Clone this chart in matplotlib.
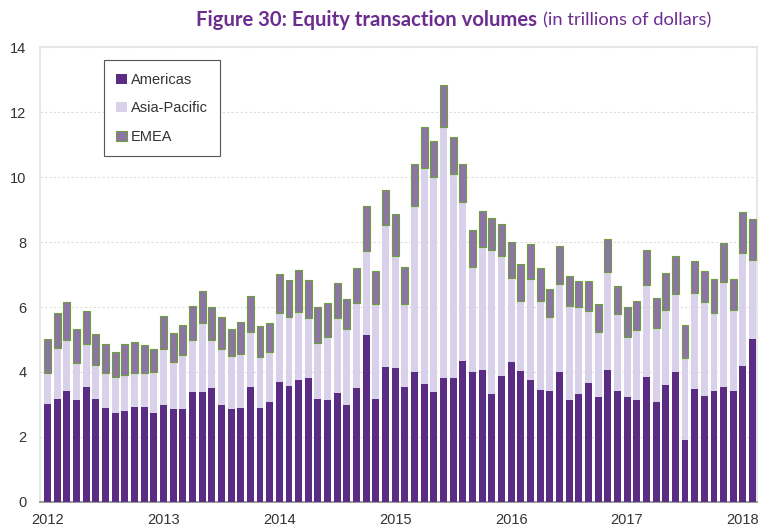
import numpy as np
import matplotlib.pyplot as plt

# monthly volumes, Jan 2012 .. Feb 2018 (trillions of dollars)
americas = [3.00, 3.16, 3.42, 3.13, 3.55, 3.17, 2.89, 2.74, 2.79, 2.93, 2.93, 2.75,
            2.99, 2.87, 2.85, 3.37, 3.37, 3.50, 2.99, 2.86, 2.90, 3.55, 2.88, 3.09,
            3.68, 3.58, 3.76, 3.80, 3.16, 3.13, 3.34, 2.97, 3.52, 5.14, 3.16, 4.15,
            4.12, 3.53, 4.01, 3.62, 3.38, 3.81, 3.83, 4.34, 4.01, 4.05, 3.32, 3.87,
            4.30, 4.04, 3.76, 3.45, 3.41, 3.99, 3.14, 3.31, 3.67, 3.24, 4.05, 3.41,
            3.24, 3.14, 3.85, 3.08, 3.61, 4.00, 1.91, 3.49, 3.26, 3.42, 3.55, 3.42,
            4.19, 5.03]
asia_pacific = [0.98, 1.58, 1.55, 1.14, 1.30, 1.06, 1.08, 1.10, 1.13, 1.05, 1.04, 1.24,
                1.73, 1.43, 1.66, 1.63, 2.13, 1.50, 1.73, 1.63, 1.65, 1.67, 1.57, 1.54,
                2.15, 2.12, 2.10, 1.87, 1.73, 1.96, 2.33, 2.35, 2.60, 2.58, 2.92, 4.39,
                3.44, 2.55, 5.09, 6.65, 6.63, 7.74, 6.25, 4.90, 3.21, 3.79, 4.43, 3.71,
                2.60, 2.15, 3.09, 2.72, 2.27, 2.73, 2.90, 2.69, 2.20, 1.99, 3.04, 2.37,
                1.83, 2.15, 2.83, 2.26, 2.30, 2.40, 2.53, 2.95, 2.88, 2.40, 3.23, 2.49,
                3.48, 2.42]
emea = [1.05, 1.08, 1.19, 1.04, 1.04, 0.95, 0.88, 0.76, 0.93, 0.95, 0.85, 0.73,
        1.01, 0.91, 0.95, 1.03, 1.00, 0.99, 0.96, 0.84, 1.00, 1.12, 0.97, 0.89,
        1.20, 1.12, 1.28, 1.17, 1.10, 1.04, 1.08, 0.93, 1.09, 1.39, 1.03, 1.06,
        1.29, 1.14, 1.29, 1.26, 1.10, 1.27, 1.15, 1.15, 1.15, 1.12, 0.99, 0.99,
        1.10, 1.13, 1.09, 1.02, 0.89, 1.17, 0.91, 0.79, 0.92, 0.87, 0.99, 0.88,
        0.93, 0.89, 1.07, 0.95, 1.15, 1.16, 1.01, 0.97, 0.98, 1.04, 1.18, 0.95,
        1.25, 1.25]
years = ['2012', '2013', '2014', '2015', '2016', '2017', '2018']

plt.rcParams['font.family'] = ['Liberation Sans', 'DejaVu Sans']

am = np.array(americas)
ap = np.array(asia_pacific)
em = np.array(emea)
x = np.arange(len(am))

fig = plt.figure(figsize=(7.6, 5.3), dpi=100)
ax = fig.add_axes([0.053, 0.053, 0.943, 0.858])

w = 0.72
ax.bar(x, am, w, color='#5B2C83', label='Americas', zorder=3)
ax.bar(x, ap, w, bottom=am, color='#D9D1E9', label='Asia-Pacific', zorder=3)
ax.bar(x, em, w, bottom=am + ap, color='#8C75A5', edgecolor='#6E9E3C',
       linewidth=0.8, label='EMEA', zorder=3)

ax.set_xlim(-0.75, 73.45)
ax.set_ylim(0, 14)
ax.set_yticks(np.arange(0, 15, 2))
ax.set_xticks(np.arange(0, len(am), 12))
ax.set_xticklabels(years)
ax.tick_params(axis='both', length=0, labelsize=10.5, colors='#333333')
ax.tick_params(axis='x', pad=8)
ax.tick_params(axis='y', pad=10)

ax.grid(axis='y', color='#DDDDDD', ls=(0, (2, 2)), lw=0.8, zorder=0)
for s in ['left', 'top', 'right']:
    ax.spines[s].set_color('#E3E3E3')
    ax.spines[s].set_linewidth(1.2)
ax.spines['bottom'].set_color('#8A8A8A')
ax.spines['bottom'].set_linewidth(1.2)

leg = ax.legend(loc='upper left', bbox_to_anchor=(0.089, 0.971), borderaxespad=0,
                fontsize=10.5, handlelength=0.7, handleheight=0.7, handletextpad=0.3,
                labelspacing=1.0, borderpad=0.85, fancybox=False,
                edgecolor='#555555', framealpha=1)
leg.get_frame().set_linewidth(0.8)
for t in leg.get_texts():
    t.set_color('#333333')

fig.text(0.707, 0.962, 'Figure 30: Equity transaction volumes', ha='right', va='center',
         fontsize=14.6, fontweight='bold', color='#6B2D8F', family='Lato')
fig.text(0.714, 0.962, '(in trillions of dollars)', ha='left', va='center',
         fontsize=13.2, color='#6B2D8F', family='Lato')

fig.savefig('out.png', dpi=100)
